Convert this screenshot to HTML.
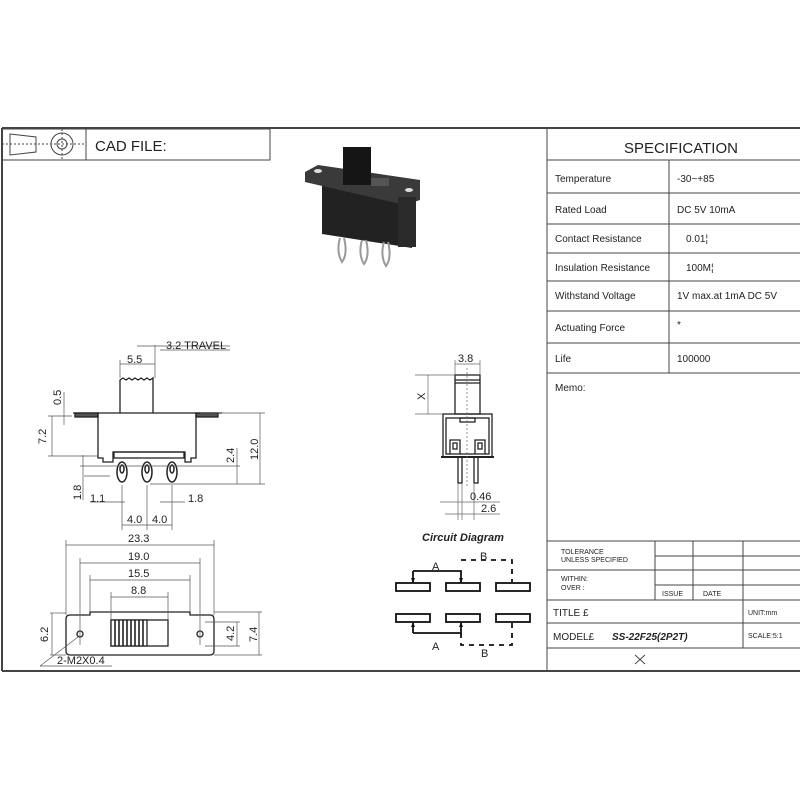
<!DOCTYPE html>
<html><head><meta charset="utf-8"><style>
body{margin:0;background:#fff;width:800px;height:800px;overflow:hidden}
svg{display:block}
text{font-family:"Liberation Sans",sans-serif;fill:#222}
</style></head><body>
<svg width="800" height="800" viewBox="0 0 800 800" xmlns="http://www.w3.org/2000/svg">
<defs><marker id="ar" markerUnits="userSpaceOnUse" markerWidth="5" markerHeight="5" refX="4" refY="2.5" orient="auto"><path d="M0,0.5 L5,2.5 L0,4.5 Z" fill="#111"/></marker></defs>
<g stroke="#444" fill="none" stroke-width="1">
<line x1="2" y1="128" x2="800" y2="128" stroke-width="2"/>
<line x1="2" y1="671" x2="800" y2="671" stroke-width="2"/>
<line x1="2" y1="128" x2="2" y2="671" stroke-width="2"/>
<rect x="2" y="129" width="268" height="31"/>
<line x1="86" y1="129" x2="86" y2="160"/>
<polygon points="10,134 36,137 36,152 10,155"/>
<line x1="2" y1="144" x2="84" y2="144" stroke-dasharray="2,2"/>
<circle cx="62" cy="144" r="11"/><circle cx="62" cy="144" r="5"/>
<line x1="62" y1="129" x2="62" y2="160" stroke-dasharray="2,2"/>
<line x1="547" y1="128" x2="547" y2="671"/>
<line x1="547" y1="160" x2="800" y2="160"/>
<line x1="547" y1="193" x2="800" y2="193"/>
<line x1="547" y1="224" x2="800" y2="224"/>
<line x1="547" y1="253" x2="800" y2="253"/>
<line x1="547" y1="281" x2="800" y2="281"/>
<line x1="547" y1="311" x2="800" y2="311"/>
<line x1="547" y1="343" x2="800" y2="343"/>
<line x1="547" y1="373" x2="800" y2="373"/>
<line x1="669" y1="160" x2="669" y2="373"/>
<line x1="547" y1="541" x2="800" y2="541"/>
<line x1="655" y1="541" x2="655" y2="600"/>
<line x1="693" y1="541" x2="693" y2="600"/>
<line x1="743" y1="541" x2="743" y2="648"/>
<line x1="655" y1="556" x2="800" y2="556"/>
<line x1="547" y1="570" x2="800" y2="570"/>
<line x1="655" y1="585" x2="800" y2="585"/>
<line x1="547" y1="600" x2="800" y2="600"/>
<line x1="547" y1="623" x2="800" y2="623"/>
<line x1="547" y1="648" x2="800" y2="648"/>
<line x1="635" y1="655" x2="645" y2="664"/><line x1="645" y1="655" x2="635" y2="664"/>
</g>
<text x="95" y="151" font-size="15" fill="#222">CAD FILE:</text>
<text x="681" y="153" font-size="15" text-anchor="middle">SPECIFICATION</text>
<g font-size="10">
<text x="555" y="182">Temperature</text><text x="677" y="182">-30~+85</text>
<text x="555" y="213">Rated Load</text><text x="677" y="213">DC 5V 10mA</text>
<text x="555" y="242">Contact Resistance</text><text x="686" y="242">0.01¦</text>
<text x="555" y="271">Insulation Resistance</text><text x="686" y="271">100M¦</text>
<text x="555" y="299">Withstand Voltage</text><text x="677" y="299">1V max.at 1mA DC 5V</text>
<text x="555" y="331">Actuating Force</text><text x="677" y="328">*</text>
<text x="555" y="362">Life</text><text x="677" y="362">100000</text>
<text x="555" y="391">Memo:</text>
</g>
<g font-size="7">
<text x="561" y="554">TOLERANCE</text><text x="561" y="562">UNLESS SPECIFIED</text>
<text x="561" y="581">WITHIN:</text><text x="561" y="590">OVER  :</text>
<text x="662" y="596">ISSUE</text><text x="703" y="596">DATE</text>
<text x="748" y="615">UNIT:mm</text><text x="748" y="638">SCALE:5:1</text>
</g>
<text x="553" y="616" font-size="10">TITLE  £</text>
<text x="553" y="640" font-size="10">MODEL£</text>
<text x="612" y="640" font-size="10" font-style="italic" font-weight="bold">SS-22F25(2P2T)</text>

<!-- photo -->
<g>
<polygon points="322,180 412,198 412,248 322,234" fill="#222"/>
<polygon points="305,172 318,165 420,180 420,200 405,205 305,182" fill="#3a3a3a"/>
<rect x="398" y="197" width="18" height="50" fill="#2a2a2a"/>
<rect x="343" y="147" width="28" height="38" fill="#151515"/>
<rect x="371" y="178" width="18" height="8" fill="#555"/>
<ellipse cx="318" cy="171" rx="4" ry="2" fill="#ddd"/><ellipse cx="409" cy="190" rx="4" ry="2" fill="#ddd"/>
<g stroke="#999" fill="none" stroke-width="2"><path d="M340 238 q-4 14 2 24 q6 -8 2 -24"/><path d="M362 240 q-4 14 2 24 q6 -8 2 -24"/><path d="M384 242 q-4 14 2 24 q6 -8 2 -24"/></g>
</g>

<!-- side view -->
<g stroke="#222" fill="none" stroke-width="1.3">
<path d="M120 413 V380 l3 -2 3 2 3 -2 3 2 3 -2 3 2 3 -2 3 2 3 -2 3 2 3 -2 V413"/>
<line x1="73" y1="413" x2="222" y2="413"/>
<rect x="75" y="413" width="23" height="4" fill="#555"/>
<rect x="196" y="413" width="22" height="4" fill="#555"/>
<path d="M98 413 V458 h5 v4 h10 v-10 h72 v10 h6 v-4 h5 V413"/>
<rect x="114" y="452" width="70" height="6"/>
<g stroke-width="1.5"><ellipse cx="122" cy="472" rx="5" ry="10"/><ellipse cx="147" cy="472" rx="5" ry="10"/><ellipse cx="172" cy="472" rx="5" ry="10"/>
<ellipse cx="122" cy="469" rx="2" ry="4"/><ellipse cx="147" cy="469" rx="2" ry="4"/><ellipse cx="172" cy="469" rx="2" ry="4"/></g>
</g>
<g stroke="#555" fill="none" stroke-width="0.7">
<line x1="120" y1="378" x2="120" y2="360"/><line x1="155" y1="378" x2="155" y2="345"/>
<line x1="120" y1="364" x2="155" y2="364"/><line x1="137" y1="346" x2="230" y2="346"/><line x1="160" y1="350" x2="230" y2="350"/>
<line x1="48" y1="416" x2="72" y2="416"/><line x1="48" y1="456" x2="98" y2="456"/><line x1="52" y1="416" x2="52" y2="456"/>
<line x1="64" y1="392" x2="64" y2="425"/>
<line x1="200" y1="413" x2="265" y2="413"/><line x1="150" y1="484" x2="265" y2="484"/><line x1="260" y1="413" x2="260" y2="484"/>
<line x1="237" y1="448" x2="237" y2="484"/><line x1="80" y1="466" x2="240" y2="466"/>
<line x1="83" y1="455" x2="83" y2="500"/><line x1="84" y1="476" x2="110" y2="476"/>
<line x1="122" y1="485" x2="122" y2="530"/><line x1="147" y1="485" x2="147" y2="530"/><line x1="172" y1="485" x2="172" y2="530"/>
<line x1="90" y1="502" x2="125" y2="502"/><line x1="160" y1="502" x2="185" y2="502"/>
<line x1="122" y1="525" x2="172" y2="525"/>
</g>
<g font-size="11" fill="#333">
<text x="127" y="363">5.5</text><text x="166" y="349">3.2 TRAVEL</text>
<text x="90" y="502">1.1</text><text x="188" y="502">1.8</text>
<text x="127" y="523">4.0</text><text x="152" y="523">4.0</text>
<text transform="translate(61,405) rotate(-90)">0.5</text>
<text transform="translate(46,444) rotate(-90)">7.2</text>
<text transform="translate(81,500) rotate(-90)">1.8</text>
<text transform="translate(234,463) rotate(-90)">2.4</text>
<text transform="translate(258,460) rotate(-90)">12.0</text>
</g>

<!-- bottom view -->
<g stroke="#222" fill="none" stroke-width="1.3">
<path d="M70 615 H90 V612 H190 V615 H210 q4 0 4 4 V651 q0 4 -4 4 H70 q-4 0 -4 -4 V619 q0 -4 4 -4 Z"/>
<circle cx="80" cy="634" r="3"/><circle cx="200" cy="634" r="3"/>
<rect x="111" y="620" width="57" height="26"/>
<rect x="111" y="620" width="36" height="26" fill="#fff"/>
<g stroke-width="1.6"><line x1="115" y1="620" x2="115" y2="646"/><line x1="119" y1="620" x2="119" y2="646"/><line x1="123" y1="620" x2="123" y2="646"/><line x1="127" y1="620" x2="127" y2="646"/><line x1="131" y1="620" x2="131" y2="646"/><line x1="135" y1="620" x2="135" y2="646"/><line x1="139" y1="620" x2="139" y2="646"/><line x1="143" y1="620" x2="143" y2="646"/></g>
</g>
<g stroke="#555" fill="none" stroke-width="0.7">
<line x1="66" y1="545" x2="214" y2="545"/><line x1="80" y1="563" x2="200" y2="563"/>
<line x1="90" y1="580" x2="190" y2="580"/><line x1="111" y1="597" x2="168" y2="597"/>
<line x1="66" y1="540" x2="66" y2="615"/><line x1="214" y1="540" x2="214" y2="615"/>
<line x1="80" y1="558" x2="80" y2="645"/><line x1="200" y1="558" x2="200" y2="645"/>
<line x1="90" y1="575" x2="90" y2="612"/><line x1="190" y1="575" x2="190" y2="612"/>
<line x1="111" y1="592" x2="111" y2="620"/><line x1="168" y1="592" x2="168" y2="620"/>
<line x1="50" y1="613" x2="66" y2="613"/><line x1="50" y1="655" x2="66" y2="655"/><line x1="52" y1="613" x2="52" y2="655"/>
<line x1="214" y1="612" x2="262" y2="612"/><line x1="214" y1="655" x2="262" y2="655"/><line x1="259" y1="612" x2="259" y2="655"/>
<line x1="205" y1="622" x2="240" y2="622"/><line x1="205" y1="646" x2="240" y2="646"/><line x1="237" y1="622" x2="237" y2="646"/>
<line x1="78" y1="637" x2="40" y2="666"/><line x1="40" y1="666" x2="112" y2="666"/>
</g>
<g font-size="11" fill="#333">
<text x="128" y="542">23.3</text><text x="128" y="560">19.0</text><text x="128" y="577">15.5</text><text x="131" y="594">8.8</text>
<text x="57" y="664">2-M2X0.4</text>
<text transform="translate(48,642) rotate(-90)">6.2</text>
<text transform="translate(234,641) rotate(-90)">4.2</text>
<text transform="translate(257,642) rotate(-90)">7.4</text>
</g>

<!-- end view -->
<g stroke="#222" fill="none" stroke-width="1.3">
<rect x="455" y="375" width="25" height="39"/>
<line x1="455" y1="380" x2="480" y2="380"/><line x1="455" y1="383" x2="480" y2="383"/>
<rect x="443" y="414" width="49" height="43"/>
<rect x="446" y="418" width="43" height="36"/>
<rect x="460" y="418" width="15" height="4"/>
<path d="M450 454 V440 h10 v14 M475 454 V440 h10 v14"/>
<rect x="453" y="443" width="4" height="6"/><rect x="478" y="443" width="4" height="6"/>
<line x1="441" y1="457" x2="494" y2="457" stroke-width="2"/>
<rect x="458" y="457" width="4" height="26"/><rect x="474" y="457" width="4" height="26"/>
</g>
<g stroke="#666" fill="none" stroke-width="0.7">
<line x1="467" y1="368" x2="467" y2="488" stroke-dasharray="2,2"/>
<line x1="455" y1="360" x2="455" y2="375"/><line x1="480" y1="360" x2="480" y2="375"/><line x1="455" y1="364" x2="480" y2="364"/>
<line x1="415" y1="375" x2="455" y2="375"/><line x1="415" y1="414" x2="443" y2="414"/><line x1="428" y1="375" x2="428" y2="414"/>
<line x1="458" y1="483" x2="458" y2="520"/><line x1="462" y1="483" x2="462" y2="520"/><line x1="474" y1="483" x2="474" y2="520"/>
<line x1="440" y1="502" x2="500" y2="502"/><line x1="445" y1="514" x2="500" y2="514"/>
</g>
<g font-size="11" fill="#333">
<text x="458" y="362">3.8</text><text x="470" y="500">0.46</text><text x="481" y="512">2.6</text>
<text transform="translate(425,400) rotate(-90)">X</text>
</g>

<!-- circuit -->
<text x="422" y="541" font-size="11" font-weight="bold" font-style="italic">Circuit Diagram</text>
<g stroke="#111" fill="none" stroke-width="1.8">
<rect x="396" y="583" width="34" height="8"/><rect x="446" y="583" width="34" height="8"/><rect x="496" y="583" width="34" height="8"/>
<rect x="396" y="614" width="34" height="8"/><rect x="446" y="614" width="34" height="8"/><rect x="496" y="614" width="34" height="8"/>
<path d="M413 571 V582" marker-end="url(#ar)"/><path d="M413 571 H461 V582" marker-end="url(#ar)"/>
<path d="M413 633 V623" marker-end="url(#ar)"/><path d="M413 633 H461 V623" marker-end="url(#ar)"/>
<g stroke-dasharray="5,5"><path d="M461 560 H512 V582"/><path d="M461 633 V645 H512 V623"/></g>
</g>
<g font-size="11" fill="#111">
<text x="432" y="570">A</text><text x="480" y="560">B</text>
<text x="432" y="650">A</text><text x="481" y="657">B</text>
</g>
</svg>
</body></html>
